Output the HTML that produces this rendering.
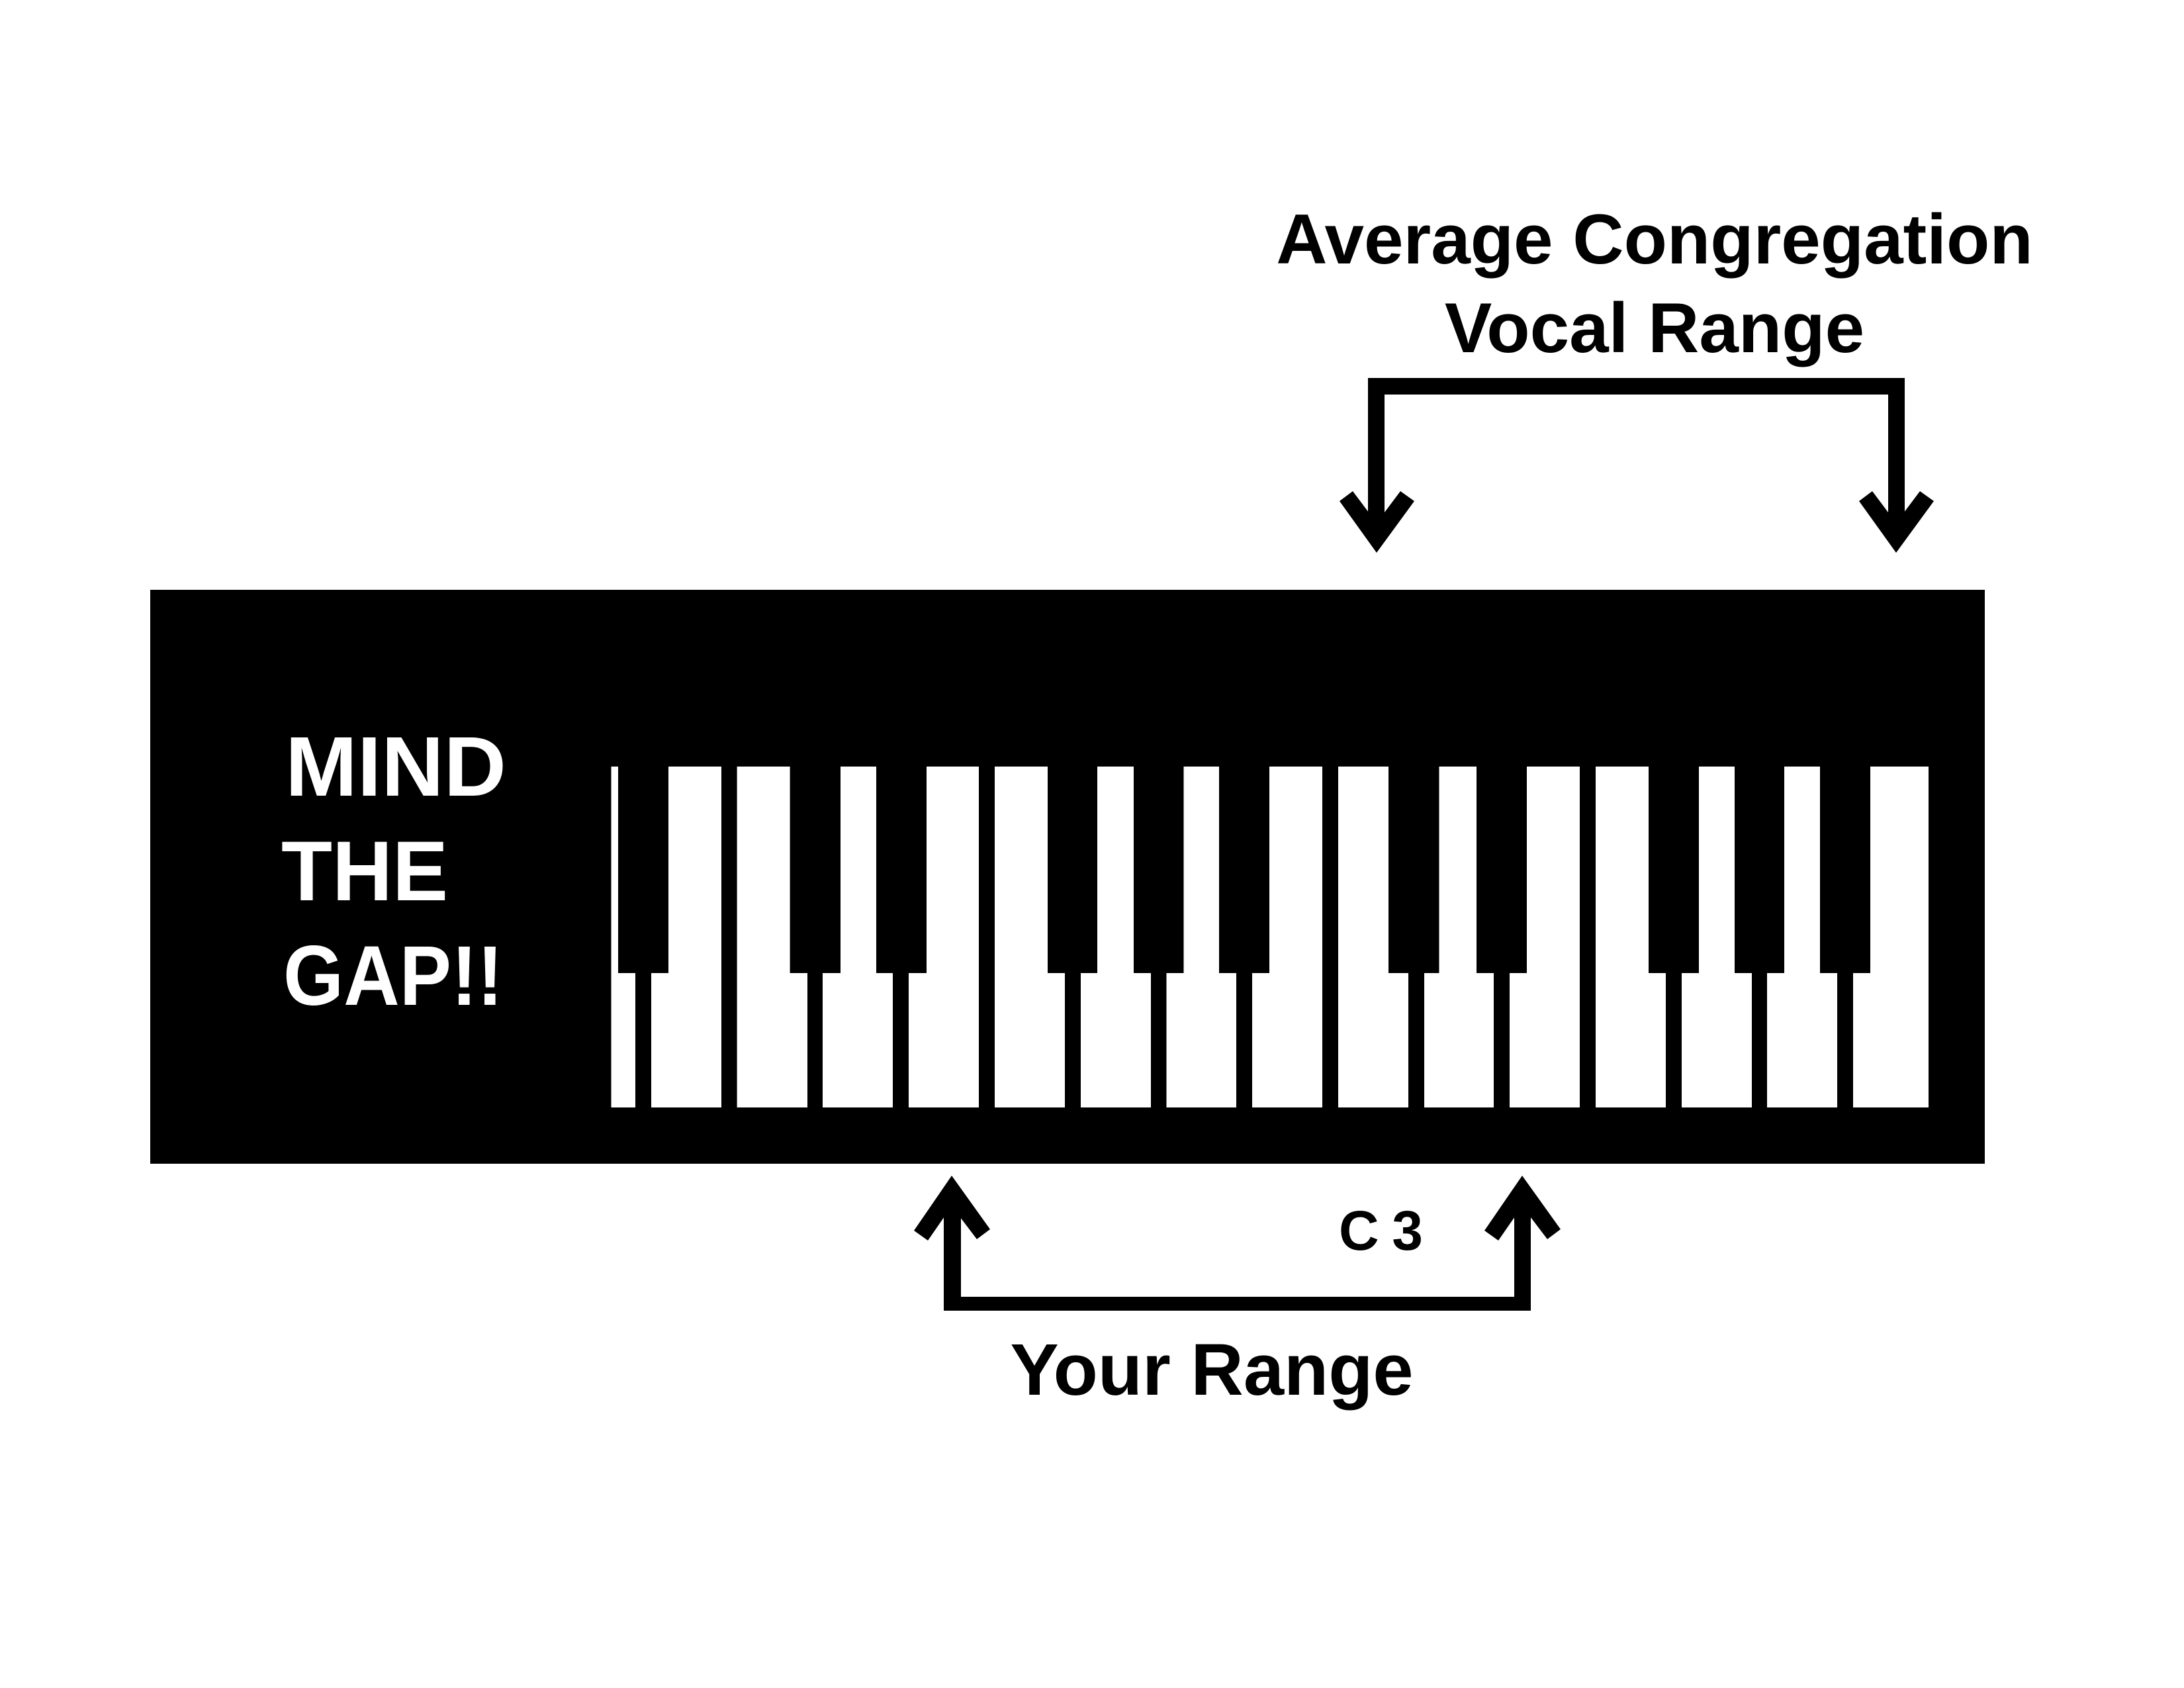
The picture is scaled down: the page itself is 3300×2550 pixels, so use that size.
<!DOCTYPE html>
<html><head><meta charset="utf-8"><style>
html,body{margin:0;padding:0;background:#fff;}
svg{display:block;}
text{font-family:"Liberation Sans",Arial,sans-serif;font-weight:bold;}
</style></head><body>
<svg width="3300" height="2550" viewBox="0 0 3300 2550" xmlns="http://www.w3.org/2000/svg">
<rect x="0" y="0" width="3300" height="2550" fill="#fff"/>
<text x="2500" y="398" font-size="107" text-anchor="middle" fill="#000">Average Congregation</text>
<text x="2500" y="532" font-size="107" text-anchor="middle" fill="#000">Vocal Range</text>
<!-- top bracket -->
<rect x="2067" y="571" width="810" height="25" fill="#000"/>
<rect x="2067" y="571" width="25" height="240" fill="#000"/>
<rect x="2853" y="571" width="25" height="240" fill="#000"/>
<polygon points="2080,835 2024,757 2044,742 2080,790 2116,742 2137,757" fill="#000"/>
<polygon points="2865,835 2809,757 2829,742 2865,790 2901,742 2922,757" fill="#000"/>
<!-- keyboard box -->
<rect x="227" y="891" width="2772" height="867" fill="#000"/>
<g fill="#fff">
<rect x="923.5" y="1158" width="36.5" height="515"/>
<rect x="984" y="1158" width="106" height="515"/>
<rect x="1113.6" y="1158" width="106.4" height="515"/>
<rect x="1243" y="1158" width="106" height="515"/>
<rect x="1373" y="1158" width="106" height="515"/>
<rect x="1503" y="1158" width="106" height="515"/>
<rect x="1633" y="1158" width="106" height="515"/>
<rect x="1762.5" y="1158" width="105.5" height="515"/>
<rect x="1892" y="1158" width="106" height="515"/>
<rect x="2022" y="1158" width="106" height="515"/>
<rect x="2152" y="1158" width="105" height="515"/>
<rect x="2281" y="1158" width="106" height="515"/>
<rect x="2411" y="1158" width="106" height="515"/>
<rect x="2541" y="1158" width="106" height="515"/>
<rect x="2670" y="1158" width="106" height="515"/>
<rect x="2800" y="1158" width="114" height="515"/>
</g>
<g fill="#000">
<rect x="934" y="1150" width="76" height="320"/>
<rect x="1193.6" y="1150" width="76.4" height="320"/>
<rect x="1324" y="1150" width="76" height="320"/>
<rect x="1583" y="1150" width="75" height="320"/>
<rect x="1713" y="1150" width="75.5" height="320"/>
<rect x="1842" y="1150" width="76" height="320"/>
<rect x="2098" y="1150" width="76.5" height="320"/>
<rect x="2231" y="1150" width="76" height="320"/>
<rect x="2491" y="1150" width="76" height="320"/>
<rect x="2621" y="1150" width="75" height="320"/>
<rect x="2750" y="1150" width="76" height="320"/>
</g>
<text x="431" y="1202" font-size="128" fill="#fff" textLength="334" lengthAdjust="spacingAndGlyphs">MIND</text>
<text x="425" y="1360" font-size="128" fill="#fff" textLength="252" lengthAdjust="spacingAndGlyphs">THE</text>
<text x="428" y="1518" font-size="128" fill="#fff" textLength="332" lengthAdjust="spacingAndGlyphs">GAP!!</text>
<!-- bottom bracket -->
<rect x="1426" y="1959" width="887" height="21" fill="#000"/>
<rect x="1426" y="1810" width="26" height="170" fill="#000"/>
<rect x="2288" y="1810" width="25" height="170" fill="#000"/>
<polygon points="1438,1776 1496,1857 1476,1872 1438,1822 1402,1874 1381,1859" fill="#000"/>
<polygon points="2300,1776 2358,1857 2338,1872 2300,1822 2264,1874 2243,1859" fill="#000"/>
<text x="2023" y="1888" font-size="84" fill="#000" textLength="127" lengthAdjust="spacing">C 3</text>
<text x="1831" y="2107" font-size="110" text-anchor="middle" fill="#000">Your Range</text>
</svg>
</body></html>
